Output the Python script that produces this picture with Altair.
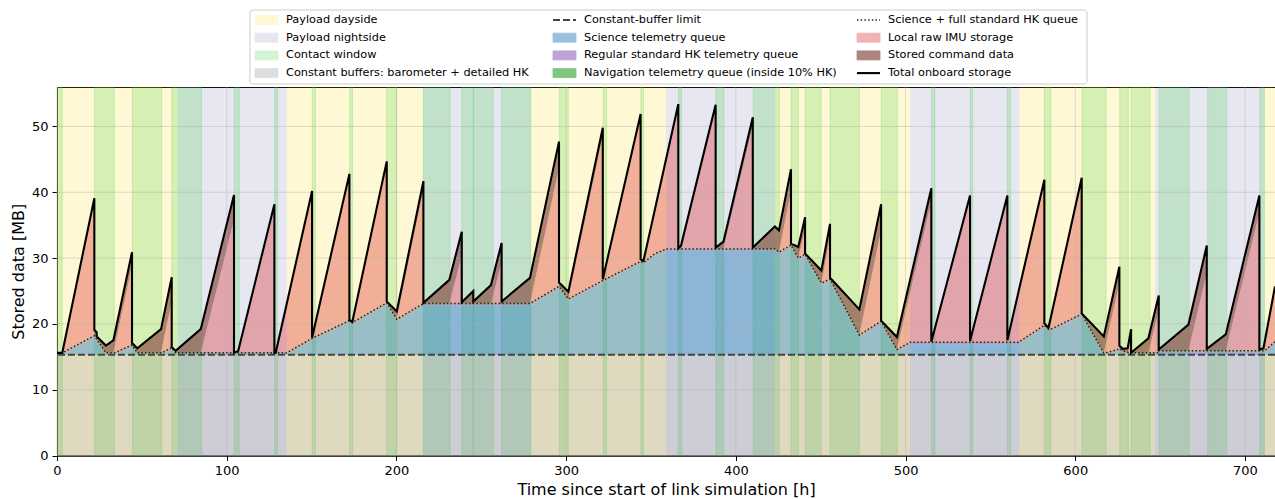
import altair as alt
import pandas as pd

# ---------------- values ----------------
# vertices of the onboard-storage simulation (duplicate times = instantaneous downlinks)
TIME_H = [0.0, 3.1, 22.0, 22.0, 23.4, 23.4, 28.8, 33.2, 33.8, 44.2, 44.2, 47.3, 61.3, 61.7,
          67.6, 67.6, 69.9, 84.7, 104.3, 104.3, 106.8, 128.1, 128.1, 128.9, 135.3, 150.3,
          150.3, 172.3, 172.3, 174.0, 194.3, 194.3, 200.2, 215.9, 215.9, 231.2, 238.5, 238.5,
          245.3, 245.3, 255.7, 262.0, 262.0, 278.7, 295.8, 295.8, 301.3, 321.6, 321.6, 343.9,
          343.9, 345.6, 352.4, 359.3, 366.1, 366.1, 367.7, 388.1, 388.1, 392.7, 410.0, 410.0,
          423.0, 425.4, 432.5, 432.5, 436.8, 440.8, 440.8, 450.4, 455.5, 455.5, 472.8, 485.6,
          485.6, 494.9, 502.7, 515.2, 515.2, 538.0, 538.0, 560.0, 560.0, 566.5, 581.8, 581.8,
          584.2, 585.7, 603.8, 603.8, 616.8, 618.2, 626.0, 626.0, 628.0, 630.9, 632.9, 632.9,
          643.1, 649.2, 649.2, 666.7, 677.5, 677.5, 688.7, 708.5, 708.5, 710.9, 711.5, 717.7]
SCIENCE_MB = [0.0, 0.0, 2.6, 2.6, 2.1, 2.1, 0.0, 0.0, 0.0, 1.2, 1.2, 0.0, 0.0, 0.0,
              0.8, 0.8, 0.0, 0.0, 0.0, 0.0, 0.0, 0.0, 0.0, 0.0, 0.0, 2.2,
              2.2, 4.9, 4.9, 4.6, 7.6, 7.6, 5.1, 7.5, 7.5, 7.5, 7.5, 7.5,
              7.5, 7.5, 7.5, 7.5, 7.5, 7.5, 10.1, 10.1, 8.2, 11.0, 11.0, 13.9,
              13.9, 13.7, 15.1, 15.8, 15.8, 15.8, 15.8, 15.8, 15.8, 15.8, 15.8, 15.8,
              15.8, 15.3, 16.4, 16.4, 14.4, 15.0, 15.0, 10.6, 11.2, 11.2, 2.7, 4.8,
              4.8, 0.5, 1.6, 1.6, 1.6, 1.6, 1.6, 1.6, 1.6, 1.6, 4.2, 4.2,
              3.6, 3.6, 5.9, 5.9, 0.0, 0.0, 0.6, 0.6, 0.3, 0.1, 0.0, 0.0,
              0.0, 0.0, 0.3, 0.3, 0.3, 0.3, 0.3, 0.3, 0.3, 0.3, 0.3, 1.7]
IMU_MB = [0.0, 0.0, 20.3, 0.0, 0.0, 0.0, 0.0, 0.0, 0.7, 12.0, 0.0, 0.0, 0.0, 0.5,
          7.0, 0.0, 0.0, 0.0, 20.2, 0.0, 0.0, 22.1, 0.0, 0.0, 7.25, 22.0,
          0.0, 21.9, 0.0, 0.0, 21.1, 0.0, 0.0, 17.3, 0.0, 0.0, 7.2, 0.0,
          0.0, 0.0, 0.0, 6.3, 0.0, 0.0, 18.0, 0.0, 0.0, 21.9, 0.0, 22.0,
          0.0, 0.0, 6.4, 13.6, 21.5, 0.0, 0.0, 21.3, 0.0, 0.0, 18.8, 0.0,
          0.0, 0.0, 8.2, 0.0, 0.0, 3.8, 0.0, 0.0, 6.4, 0.0, 0.0, 13.8,
          0.0, 0.0, 7.55, 21.4, 0.0, 22.0, 0.0, 21.9, 0.0, 7.3, 21.8, 0.0,
          0.0, 1.7, 20.4, 0.0, 0.0, 1.6, 10.0, 0.0, 0.0, 0.0, 3.0, 0.0,
          0.0, 6.4, 0.0, 0.0, 11.9, 0.0, 0.0, 21.0, 0.0, 0.0, 0.8, 8.0]
COMMAND_MB = [0.0, 0.0, 0.6, 0.9, 1.0, 0.4, 1.1, 1.9, 1.9, 2.1, 0.3, 0.7, 3.6, 3.6,
              3.7, 0.1, 0.3, 3.6, 3.8, 0.0, 0.3, 0.5, 0.0, 0.05, 0.15, 0.4,
              0.1, 0.4, 0.1, 0.1, 0.4, 0.2, 1.2, 1.3, 0.1, 3.6, 3.7, 0.2,
              1.9, 0.3, 2.8, 2.9, 0.3, 3.9, 4.0, 0.6, 1.1, 1.3, 0.2, 0.4,
              0.3, 0.3, 0.4, 0.5, 0.5, 0.1, 0.5, 0.6, 0.2, 1.1, 1.2, 0.2,
              3.4, 3.3, 3.3, 0.2, 1.7, 1.8, 0.1, 1.9, 2.0, 0.2, 3.9, 4.0,
              0.1, 1.9, 1.95, 2.0, 0.1, 0.3, 0.2, 0.4, 0.3, 0.3, 0.3, 0.3,
              0.2, 0.2, 0.3, 0.1, 2.5, 2.5, 2.5, 0.5, 0.3, 0.6, 0.6, 0.0,
              2.2, 2.3, 0.2, 4.0, 4.1, 0.3, 2.5, 2.6, 0.2, 0.4, 0.4, 0.4]

CONSTANT_BUFFER_MB = 15.3     # barometer + detailed HK
REGULAR_HK_MB = 0.2
NAVIGATION_MB = 0.1

DAYSIDE_START = [0.0, 135.3, 279.3, 423.1, 567.1, 711.5]
DAYSIDE_END = [71.1, 215.8, 358.9, 502.7, 647.0, 720.0]
NIGHTSIDE_START = [71.1, 215.8, 358.9, 502.7, 647.0]
NIGHTSIDE_END = [135.3, 279.3, 423.1, 567.1, 711.5]
CONTACT_START = [0.0, 22.0, 44.4, 67.6, 104.4, 128.3, 150.4, 172.4, 194.2, 215.8, 238.5,
                 245.3, 262.0, 296.0, 321.8, 344.0, 366.1, 388.2, 410.2, 432.5, 440.8,
                 455.5, 485.6, 515.3, 538.0, 560.0, 581.8, 604.0, 626.2, 632.9, 649.4,
                 678.0, 708.7]
CONTACT_END = [3.1, 33.8, 61.7, 85.2, 107.4, 130.0, 152.3, 174.2, 200.2, 231.6, 245.3,
               257.1, 279.3, 301.3, 323.9, 345.6, 368.1, 392.9, 425.6, 436.9, 450.3,
               472.8, 495.2, 517.4, 539.6, 562.0, 585.7, 618.2, 631.3, 644.1, 667.1,
               689.3, 711.5]

X_TICKS = [0, 100, 200, 300, 400, 500, 600, 700]
Y_TICKS = [0, 10, 20, 30, 40, 50]

LEGEND_LABELS = ["Payload dayside", "Payload nightside", "Contact window",
                 "Constant buffers: barometer + detailed HK",
                 "Constant-buffer limit", "Science telemetry queue",
                 "Regular standard HK telemetry queue",
                 "Navigation telemetry queue (inside 10% HK)",
                 "Science + full standard HK queue", "Local raw IMU storage",
                 "Stored command data", "Total onboard storage"]
LEGEND_KEYS = ["day", "night", "contact", "buffer", "limit", "science", "hk", "nav",
               "queue", "imu", "cmd", "total"]

# ---------------- styles / layout ----------------
X_MAX = 717.7
Y_MAX = 56
W, H = 1218, 368.5
FONT = "DejaVu Sans"

FILL = {
    "day": ("#ffd700", 0.17), "night": ("#7070b0", 0.17), "contact": ("#32cd32", 0.2),
    "buffer": ("#808080", 0.25), "science": ("#1f77b4", 0.45), "hk": ("#9467bd", 0.6),
    "nav": ("#2ca02c", 0.6), "imu": ("#d62728", 0.35), "cmd": ("#8c564b", 0.72),
}
DOT_STYLE = dict(color="#222222", strokeWidth=1.5, strokeDash=[1.5, 2.2])

XT = "Time since start of link simulation [h]"
YT = "Stored data [MB]"
xs = alt.Scale(domain=[0, X_MAX], nice=False, zero=False)
ys = alt.Scale(domain=[0, Y_MAX], nice=False)
x_axis = alt.Axis(values=X_TICKS, format="d", labelFlush=False, titlePadding=4)
y_axis = alt.Axis(values=Y_TICKS, format="d", labelFlush=False, titlePadding=5)


def X(f):
    return alt.X(f"{f}:Q", scale=xs, axis=x_axis, title=XT)


def Y(f):
    return alt.Y(f"{f}:Q", scale=ys, axis=y_axis, title=YT)


# ---------------- tables ----------------
df = pd.DataFrame({"t": TIME_H, "sci": SCIENCE_MB, "imu": IMU_MB, "cmd": COMMAND_MB})
df["idx"] = range(len(df))
df["b0"] = CONSTANT_BUFFER_MB
df["b1"] = df["b0"] + df["sci"]
df["b2"] = df["b1"] + REGULAR_HK_MB
df["b3"] = df["b2"] + NAVIGATION_MB
df["b4"] = df["b3"] + df["imu"]
df["b5"] = df["b4"] + df["cmd"]

day_df = pd.DataFrame({"start": DAYSIDE_START, "end": DAYSIDE_END})
night_df = pd.DataFrame({"start": NIGHTSIDE_START, "end": NIGHTSIDE_END})
contact_df = pd.DataFrame({"start": CONTACT_START, "end": CONTACT_END})


def band(data, key, stroke=False):
    c, o = FILL[key]
    kw = dict(fill=c, fillOpacity=o, clip=True)
    if stroke:
        kw.update(stroke=c, strokeOpacity=o, strokeWidth=1)
    return alt.Chart(data).mark_rect(**kw).encode(
        x=X("start"), x2="end", y=alt.value(0), y2=alt.value(H))


layers = [band(day_df, "day"), band(night_df, "night"), band(contact_df, "contact", True)]

buf_df = pd.DataFrame({"start": [0.0], "end": [X_MAX], "lo": [0.0], "hi": [CONSTANT_BUFFER_MB]})
layers.append(alt.Chart(buf_df).mark_rect(fill=FILL["buffer"][0], fillOpacity=FILL["buffer"][1])
              .encode(x=X("start"), x2="end", y=Y("lo"), y2="hi"))

for key, lo, hi in [("science", "b0", "b1"), ("hk", "b1", "b2"), ("nav", "b2", "b3"),
                    ("imu", "b3", "b4"), ("cmd", "b4", "b5")]:
    c, o = FILL[key]
    layers.append(alt.Chart(df).mark_area(fill=c, fillOpacity=o, clip=True).encode(
        x=X("t"), y=Y(lo), y2=alt.Y2(f"{hi}:Q")))

# grid
layers.append(alt.Chart(pd.DataFrame({"v": X_TICKS})).mark_rule(
    color="#b0b0b0", strokeWidth=0.8, opacity=0.55).encode(x=X("v")))
layers.append(alt.Chart(pd.DataFrame({"v": Y_TICKS})).mark_rule(
    color="#b0b0b0", strokeWidth=0.8, opacity=0.55).encode(y=Y("v")))

# lines
layers.append(alt.Chart(pd.DataFrame({"v": [CONSTANT_BUFFER_MB]})).mark_rule(
    color="#444444", strokeWidth=2, strokeDash=[7, 3]).encode(y=Y("v")))
layers.append(alt.Chart(df).mark_line(clip=True, **DOT_STYLE).encode(
    x=X("t"), y=Y("b3"), order=alt.Order("idx:Q")))
layers.append(alt.Chart(df).mark_line(color="black", strokeWidth=2.1, clip=True).encode(
    x=X("t"), y=Y("b5"), order=alt.Order("idx:Q")))

# ---------------- legend (matplotlib style, 3 columns above the axes) ----------------
COL_TEXT_X = [229, 527, 831]
ROW_Y = [-67.0, -49.3, -31.6, -13.9]
rows = []
for i, (lab, key) in enumerate(zip(LEGEND_LABELS, LEGEND_KEYS)):
    col, row = i // 4, i % 4
    tx = COL_TEXT_X[col]
    ty = ROW_Y[row]
    c, o = FILL.get(key, ("#000000", 1.0))
    rows.append(dict(label=lab, key=key, tx=tx, ty=ty, sx0=tx - 31, sx1=tx - 8,
                     sy0=ty - 4.5, sy1=ty + 4.5, fill=c, op=o))
leg = pd.DataFrame(rows)
SX = lambda f: alt.X(f"{f}:Q", scale=None, axis=None)
SY = lambda f: alt.Y(f"{f}:Q", scale=None, axis=None)

layers.append(alt.Chart(pd.DataFrame({"a": [0]})).mark_rect(
    fill="white", fillOpacity=0.85, stroke="#cccccc", strokeWidth=1, cornerRadius=3).encode(
    x=alt.value(193), x2=alt.value(1030), y=alt.value(-77), y2=alt.value(-3)))
layers.append(alt.Chart(leg[leg["key"].isin(list(FILL.keys()))]).mark_rect(strokeWidth=0.8).encode(
    x=SX("sx0"), x2="sx1", y=SY("sy0"), y2="sy1",
    fill=alt.Fill("fill:N", scale=None, legend=None),
    stroke=alt.Stroke("fill:N", scale=None, legend=None),
    opacity=alt.Opacity("op:Q", scale=None, legend=None)))
for key, kw in [("limit", dict(color="#444444", strokeWidth=2, strokeDash=[7, 3])),
                ("queue", DOT_STYLE),
                ("total", dict(color="black", strokeWidth=2.1))]:
    layers.append(alt.Chart(leg[leg["key"] == key]).mark_rule(**kw).encode(
        x=SX("sx0"), x2="sx1", y=SY("ty")))
layers.append(alt.Chart(leg).mark_text(align="left", baseline="middle", font=FONT,
                                       fontSize=11.3, color="black").encode(
    x=SX("tx"), y=SY("ty"), text="label:N"))

chart = alt.layer(*layers).properties(
    width=W, height=H,
    autosize=alt.AutoSizeParams(type="none"),
    padding={"left": 57, "top": 87, "right": 0, "bottom": 43},
    background="white",
).configure_view(stroke="black", strokeWidth=1).configure_axis(
    domainColor="black", tickColor="black", labelColor="black", titleColor="black",
    labelFont=FONT, titleFont=FONT, labelFontSize=13, titleFontSize=16,
    titleFontWeight="normal", tickSize=5, labelPadding=4, grid=False, domainWidth=1,
)

chart.save("out.html", embed_options={"renderer": "svg", "actions": False})
